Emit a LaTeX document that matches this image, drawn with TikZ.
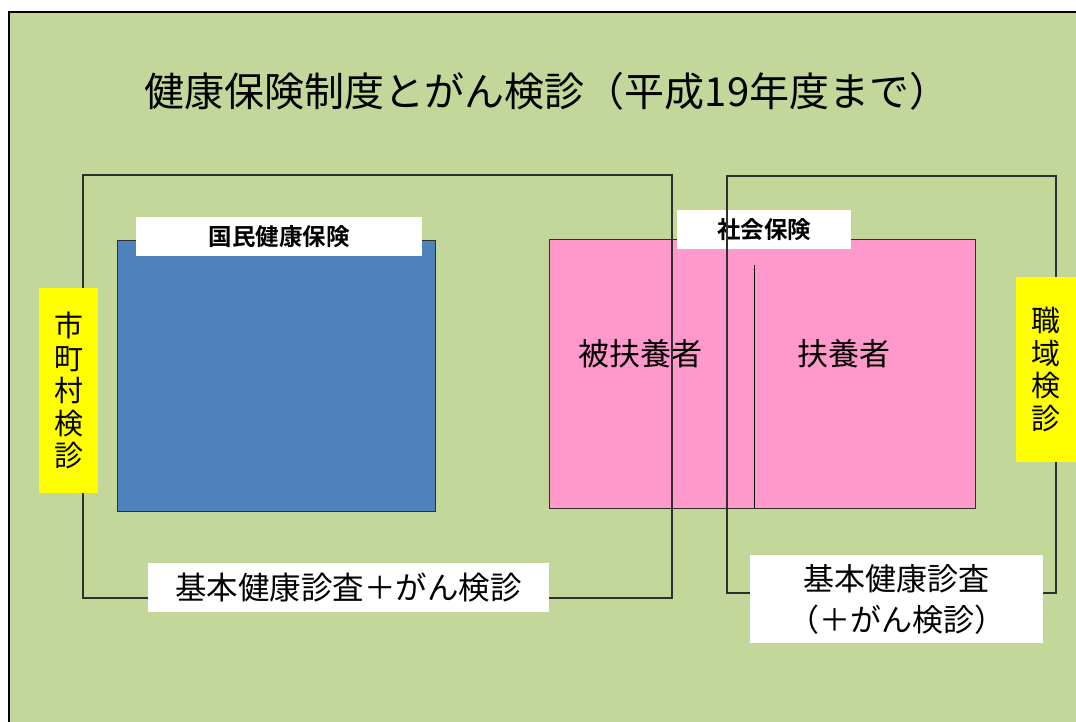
\documentclass[tikz,border=0pt]{standalone}
\usepackage{fontspec}
\setmainfont{Noto Sans CJK JP}
\newfontfamily\jpb{Noto Sans CJK JP Bold}
\definecolor{bggreen}{HTML}{C4D79B}
\definecolor{nhiblue}{HTML}{4F81BD}
\definecolor{sipink}{HTML}{FF99CC}
\definecolor{lbyellow}{HTML}{FFFF00}
\definecolor{edge}{HTML}{303030}
\tikzset{
  outlinebox/.style={draw=edge, line width=1.1pt},
  whitelabel/.style={fill=white, inner sep=0pt, text=black},
  yellowlabel/.style={fill=lbyellow, inner sep=0pt, align=center, font=\fontsize{29}{32.5}\selectfont},
  boxtext/.style={font=\fontsize{31}{35}\selectfont, text=black},
}
\begin{document}
\begin{tikzpicture}[x=1pt,y=-1pt]
\useasboundingbox (0,0) rectangle (1076,722);
% background
\fill[white] (0,0) rectangle (1076,722);
\fill[bggreen] (9,12) rectangle (1076,722);
\draw[black, line width=1.8pt] (9,722) -- (9,12) -- (1076,12);
% title
\node[font=\fontsize{40}{46}\selectfont] (title) at (547,91) {健康保険制度とがん検診（平成19年度まで）};
% blue box
\draw[draw=edge, fill=nhiblue, line width=0.9pt] (117,240) rectangle (435,511);
% pink box
\draw[draw=edge, fill=sipink, line width=0.9pt] (549,239) rectangle (975,508);
\draw[black, line width=0.9pt] (754,265) -- (754,508);
\node[boxtext] (hifuyo) at (640,354) {被扶養者};
\node[boxtext] (fuyo) at (844,354) {扶養者};
% social insurance label
\node[whitelabel, minimum width=174pt, minimum height=39pt] (shaho) at (764,229.5) {\jpb\fontsize{23.5}{26}\selectfont 社会保険};
% outlines
\draw[outlinebox] (83,175) rectangle (672,598);
\draw[outlinebox] (727,176) rectangle (1056,593);
% NHI label
\node[whitelabel, minimum width=286pt, minimum height=39pt] (kokuho) at (279,236.5) {\jpb\fontsize{23.5}{26}\selectfont 国民健康保険};
% yellow labels
\node[yellowlabel, minimum width=59pt, minimum height=205pt] (shichoson) at (68.5,390.5) {市\\町\\村\\検\\診};
\node[yellowlabel, minimum width=60pt, minimum height=185pt] (shokuiki) at (1046,369.5) {職\\域\\検\\診};
% bottom labels
\node[whitelabel, minimum width=401pt, minimum height=49pt, font=\fontsize{31.5}{35}\selectfont] (kihonL) at (348.5,587.5) {基本健康診査＋がん検診};
\node[whitelabel, minimum width=293pt, minimum height=88pt, align=center, font=\fontsize{31}{41}\selectfont] (kihonR) at (896.5,599) {基本健康診査\\（＋がん検診）};
\end{tikzpicture}
\end{document}
